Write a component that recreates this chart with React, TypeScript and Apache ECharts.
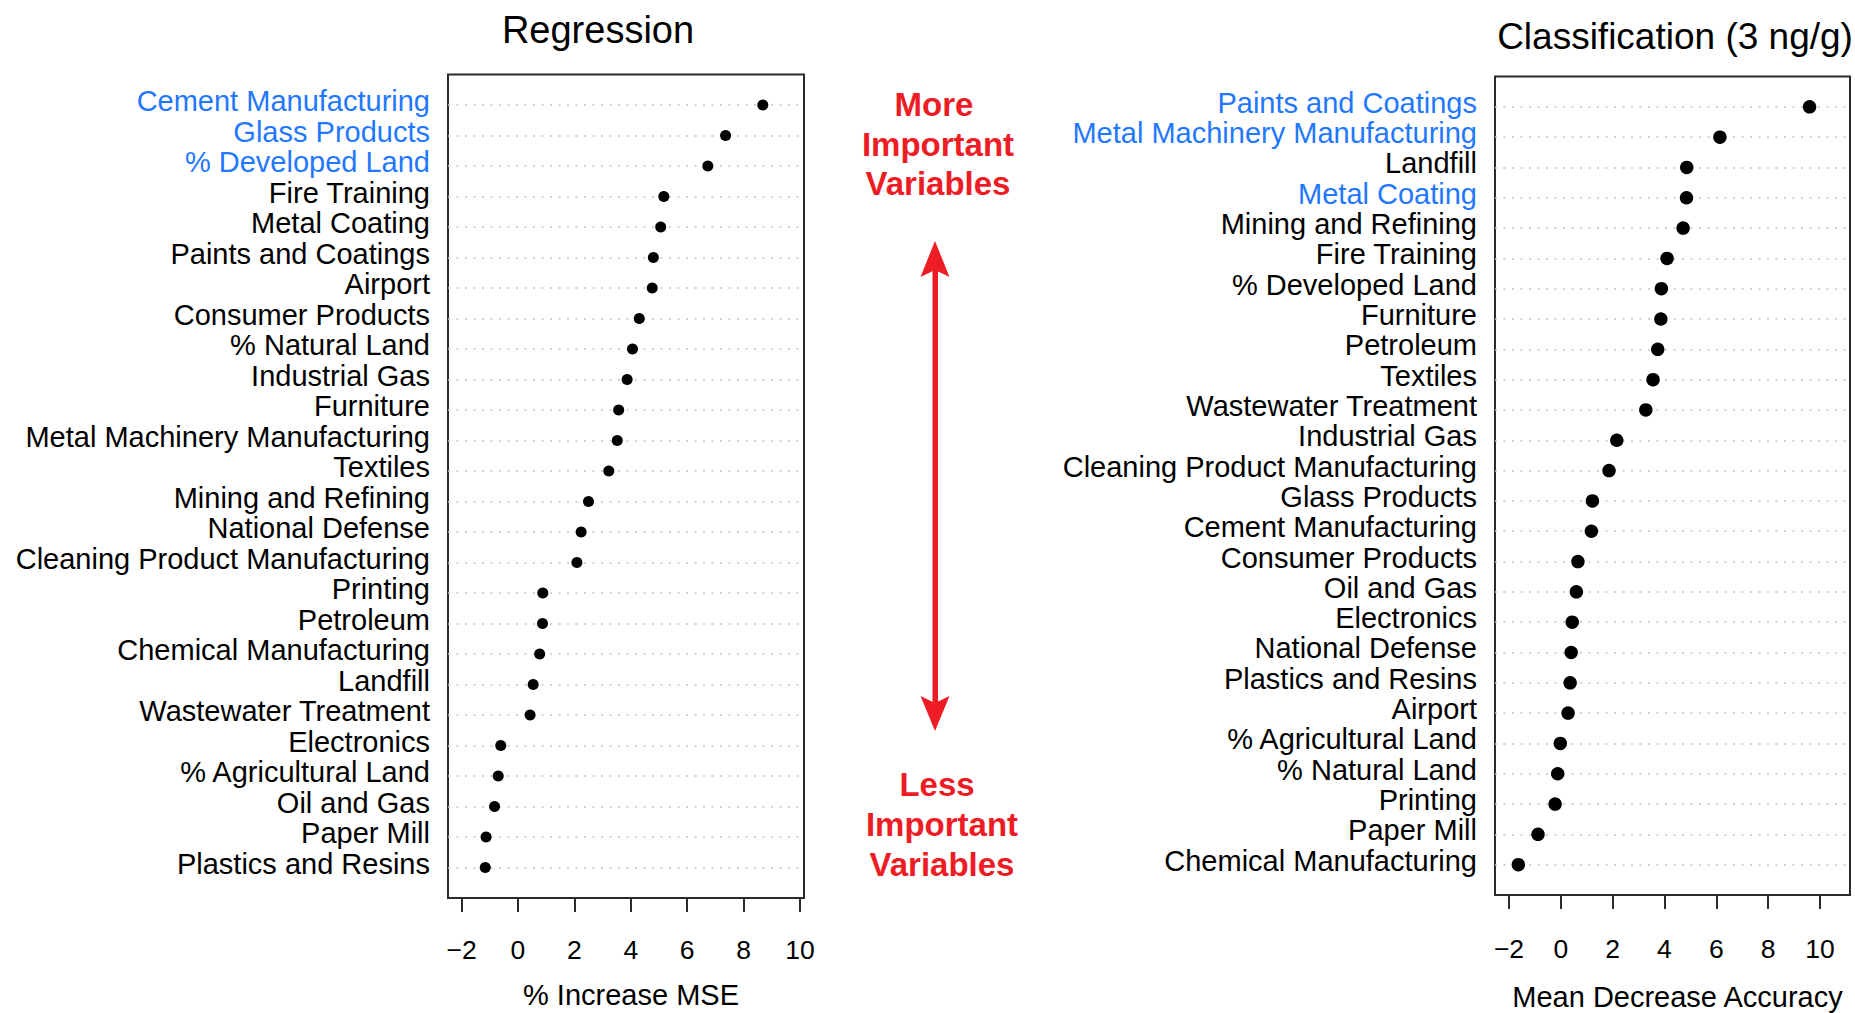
import React, { useEffect, useRef } from "react";
import * as echarts from "echarts";

// ---------- data ----------
const regNames = [
  "Cement Manufacturing", "Glass Products", "% Developed Land", "Fire Training",
  "Metal Coating", "Paints and Coatings", "Airport", "Consumer Products",
  "% Natural Land", "Industrial Gas", "Furniture", "Metal Machinery Manufacturing",
  "Textiles", "Mining and Refining", "National Defense", "Cleaning Product Manufacturing",
  "Printing", "Petroleum", "Chemical Manufacturing", "Landfill",
  "Wastewater Treatment", "Electronics", "% Agricultural Land", "Oil and Gas",
  "Paper Mill", "Plastics and Resins",
];
const regValues = [
  8.68, 7.36, 6.73, 5.17, 5.06, 4.8, 4.76, 4.3, 4.06, 3.87, 3.57, 3.52, 3.22,
  2.5, 2.24, 2.09, 0.88, 0.87, 0.77, 0.54, 0.43, -0.61, -0.7, -0.83, -1.13, -1.16,
];
const regHighlighted = ["Cement Manufacturing", "Glass Products", "% Developed Land"];

const clsNames = [
  "Paints and Coatings", "Metal Machinery Manufacturing", "Landfill", "Metal Coating",
  "Mining and Refining", "Fire Training", "% Developed Land", "Furniture",
  "Petroleum", "Textiles", "Wastewater Treatment", "Industrial Gas",
  "Cleaning Product Manufacturing", "Glass Products", "Cement Manufacturing",
  "Consumer Products", "Oil and Gas", "Electronics", "National Defense",
  "Plastics and Resins", "Airport", "% Agricultural Land", "% Natural Land",
  "Printing", "Paper Mill", "Chemical Manufacturing",
];
const clsValues = [
  9.6, 6.14, 4.86, 4.85, 4.72, 4.1, 3.88, 3.86, 3.74, 3.56, 3.28, 2.16, 1.86,
  1.22, 1.18, 0.66, 0.6, 0.44, 0.4, 0.36, 0.28, -0.02, -0.12, -0.22, -0.88, -1.64,
];
const clsHighlighted = ["Paints and Coatings", "Metal Machinery Manufacturing", "Metal Coating"];

const xTicks = [-2, 0, 2, 4, 6, 8, 10];

const titles = ["Regression", "Classification (3 ng/g)"];
const xNames = ["% Increase MSE", "Mean Decrease Accuracy"];
const topNote = ["More", "Important", "Variables"];
const bottomNote = ["Less", "Important", "Variables"];

// ---------- styles ----------
const FONT = "'Liberation Sans', Arial, Helvetica, sans-serif";
const BLUE = "#1f78ff";
const RED = "#ee1c25";
const BOX = "#2b2b2b";

function makeYAxis(gridIndex: number, names: string[], highlighted: string[]) {
  const n = names.length;
  return {
    type: "value",
    gridIndex,
    min: 0,
    max: n + 1,
    interval: 1,
    axisLine: { show: false },
    axisTick: { show: false },
    axisLabel: {
      margin: 18,
      fontFamily: FONT,
      fontSize: 29,
      color: "#000",
      formatter: (v: number) => {
        const idx = n - Math.round(v);
        if (idx < 0 || idx >= n) return "";
        const name = names[idx];
        return highlighted.includes(name) ? `{b|${name}}` : `{k|${name}}`;
      },
      rich: {
        b: { color: BLUE, fontFamily: FONT, fontSize: 29, padding: [0, 0, 8, 0] },
        k: { color: "#000", fontFamily: FONT, fontSize: 29, padding: [0, 0, 8, 0] },
      },
    },
    splitLine: {
      show: true,
      showMinLine: false,
      showMaxLine: false,
      lineStyle: { color: "#c4c4c4", width: 1.6, type: [2, 6.5] },
    },
  };
}

function makeXAxis(gridIndex: number, min: number, max: number, name: string, labelMargin: number, nameGap: number) {
  return {
    type: "value",
    gridIndex,
    min,
    max,
    name,
    nameLocation: "middle",
    nameGap,
    nameTextStyle: { fontFamily: FONT, fontSize: 29, color: "#000", padding: [0, 0, 0, 10] },
    axisLine: { show: false },
    axisTick: {
      show: true,
      inside: false,
      length: 14,
      customValues: xTicks,
      lineStyle: { color: BOX, width: 2 },
    },
    axisLabel: {
      show: true,
      margin: labelMargin,
      customValues: xTicks,
      fontFamily: FONT,
      fontSize: 26.5,
      color: "#000",
      formatter: (v: number) => String(v).replace("-", "\u2212"),
    },
    splitLine: { show: false },
  };
}

function noteTexts(lines: string[], xs: number[], ys: number[]) {
  return lines.map((t, i) => ({
    type: "text",
    x: xs[i],
    y: ys[i],
    silent: true,
    style: {
      text: t,
      fill: RED,
      fontFamily: FONT,
      fontSize: 33,
      fontWeight: "bold",
      align: "center",
      verticalAlign: "middle",
    },
  }));
}

export default function App() {
  const ref = useRef<HTMLDivElement | null>(null);

  useEffect(() => {
    if (!ref.current) return;
    const chart = echarts.init(ref.current, undefined, { renderer: "svg" });
    const nReg = regNames.length;
    const nCls = clsNames.length;

    const option = {
      animation: false,
      backgroundColor: "#fff",
      grid: [
        {
          left: 448, top: 74.5, width: 356, height: 823.5,
          show: true, borderColor: BOX, borderWidth: 2, backgroundColor: "transparent",
          containLabel: false, outerBoundsMode: "none",
        },
        {
          left: 1495, top: 76.5, width: 355, height: 818.5,
          show: true, borderColor: BOX, borderWidth: 2, backgroundColor: "transparent",
          containLabel: false, outerBoundsMode: "none",
        },
      ],
      xAxis: [
        makeXAxis(0, -2.48, 10.14, xNames[0], 38, 82),
        makeXAxis(1, -2.54, 11.16, xNames[1], 40, 87),
      ],
      yAxis: [
        makeYAxis(0, regNames, regHighlighted),
        makeYAxis(1, clsNames, clsHighlighted),
      ],
      series: [
        {
          type: "scatter",
          xAxisIndex: 0,
          yAxisIndex: 0,
          symbol: "circle",
          symbolSize: 11,
          itemStyle: { color: "#000", opacity: 1 },
          silent: true,
          data: regValues.map((v, i) => [v, nReg - i]),
        },
        {
          type: "scatter",
          xAxisIndex: 1,
          yAxisIndex: 1,
          symbol: "circle",
          symbolSize: 13.5,
          itemStyle: { color: "#000", opacity: 1 },
          silent: true,
          data: clsValues.map((v, i) => [v, nCls - i]),
        },
      ],
      graphic: [
        {
          type: "text", x: 598, y: 29.5, silent: true,
          style: {
            text: titles[0], fill: "#000", fontFamily: FONT, fontSize: 38,
            align: "center", verticalAlign: "middle",
          },
        },
        {
          type: "text", x: 1675, y: 36.5, silent: true,
          style: {
            text: titles[1], fill: "#000", fontFamily: FONT, fontSize: 37,
            align: "center", verticalAlign: "middle",
          },
        },
        ...noteTexts(topNote, [934, 938, 938], [104, 144, 183]),
        ...noteTexts(bottomNote, [937, 942, 942], [784, 824, 864]),
        {
          type: "rect", silent: true,
          shape: { x: 932.5, y: 268, width: 5.5, height: 438 },
          style: { fill: RED },
        },
        {
          type: "polygon", silent: true,
          shape: { points: [[935, 241], [949.5, 277], [935, 270], [920.5, 277]] },
          style: { fill: RED },
        },
        {
          type: "polygon", silent: true,
          shape: { points: [[935, 731], [949.5, 696], [935, 703], [920.5, 696]] },
          style: { fill: RED },
        },
      ],
    };

    chart.setOption(option as any);
    return () => {
      chart.dispose();
    };
  }, []);

  return (
    <div
      ref={ref}
      style={{ position: "fixed", left: 0, top: 0, width: 1855, height: 1013, background: "#fff" }}
    />
  );
}
